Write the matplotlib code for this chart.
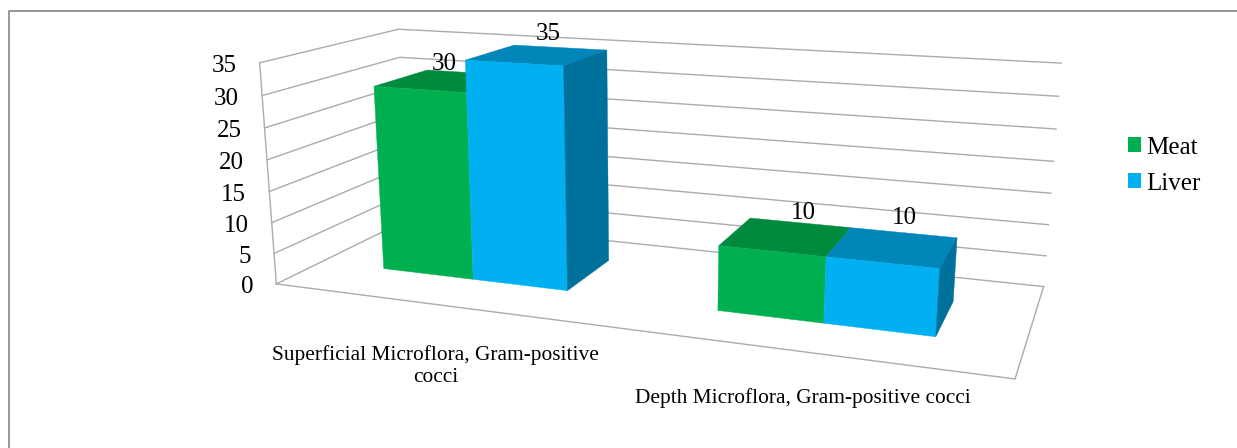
import numpy as np
import matplotlib
matplotlib.use("Agg")
import matplotlib.pyplot as plt
from matplotlib.patches import Patch, Polygon

# Chart data
categories = ["Superficial Microflora, Gram-positive\ncocci",
              "Depth Microflora, Gram-positive cocci"]
series_names = ["Meat", "Liver"]
meat_values = [30, 10]
liver_values = [35, 10]
tick_values = [0, 5, 10, 15, 20, 25, 30, 35]

# Colours: front face, top face, side face
front_colours = ["#00B050", "#00B0F0"]
top_colours = ["#008A3E", "#0086B8"]
side_colours = ["#00703A", "#00709C"]
grid_colour = "#ababab"

# Box layout in box units (x across 0..1, depth 0..1)
group_left = [0.103, 0.610]
bar_width = [0.1445, 0.1415]
depth_near = [0.318, 0.300]
depth_far = [0.735, 0.700]

# Perspective camera for the box: world corners and their pixel positions
Z_TOP = tick_values[-1]
camera_world = [(0, 0, 0), (0, 1, 0), (1, 1, 0), (1, 0, 0),
                (0, 0, Z_TOP), (0, 1, Z_TOP), (1, 1, Z_TOP), (1, 1, 20)]
camera_pixels = [(276, 284), (408, 219.5), (1043.3, 286.7), (1015, 379),
                 (260, 62.7), (398, 29.3), (1061, 63.3), (1054, 161)]


def fit_camera(world, pixels):
    rows = []
    for (X, Y, Z), (u, v) in zip(world, pixels):
        rows.append([X, Y, Z, 1, 0, 0, 0, 0, -u * X, -u * Y, -u * Z, -u])
        rows.append([0, 0, 0, 0, X, Y, Z, 1, -v * X, -v * Y, -v * Z, -v])
    return np.linalg.svd(np.array(rows))[2][-1].reshape(3, 4)


CAMERA = fit_camera(camera_world, camera_pixels)


def project(x, d, z):
    p = CAMERA @ np.array([x, d, z, 1.0])
    return p[:2] / p[2]


fig = plt.figure(figsize=(12.37, 4.48), dpi=100)
ax = fig.add_axes([0, 0, 1, 1])
ax.set_xlim(0, 1237)
ax.set_ylim(448, 0)
ax.axis("off")
serif = "Liberation Serif"
PX = 0.72  # points per pixel at this dpi

# Outer chart frame: only the top and left edges are drawn
ax.plot([9, 9, 1237], [448, 11.5, 11.5], color="#8f8f8f", lw=1.3, zorder=1)

# Value gridlines along the left wall and the back wall
for z in tick_values:
    pts = np.array([project(0, 0, z), project(0, 1, z), project(1, 1, z)])
    ax.plot(pts[:, 0], pts[:, 1], color=grid_colour, lw=1.0, zorder=2)

# Floor outline and the front-left vertical edge
floor = np.array([project(0, 0, 0), project(1, 0, 0), project(1, 1, 0)])
ax.plot(floor[:, 0], floor[:, 1], color=grid_colour, lw=1.0, zorder=2)
edge = np.array([project(0, 0, 0), project(0, 0, Z_TOP)])
ax.plot(edge[:, 0], edge[:, 1], color=grid_colour, lw=1.0, zorder=2)

# Value labels along the vertical axis
for z in tick_values:
    u, v = project(0, 0, z)
    ax.text(u - 23, v + 0.5, str(z), ha="right", va="center_baseline",
            family=serif, fontsize=25 * PX, color="black", zorder=6)


def face(points, colour, order):
    ax.add_patch(Polygon(points, closed=True, facecolor=colour,
                         edgecolor=colour, lw=0.3, zorder=order))


# Bars, painted series by series so the nearer faces overlap correctly
series_values = [meat_values, liver_values]
label_shift = [[(-26, -11), (3, -12)], [(-12, -16), (1, -17)]]
for g in range(len(categories)):
    for s, values in enumerate(series_values):
        value = values[g]
        x0 = group_left[g] + s * bar_width[g]
        x1 = x0 + bar_width[g]
        d0, d1 = depth_near[g], depth_far[g]
        order = 3 + s * 0.1
        face([project(x0, d0, value), project(x1, d0, value),
              project(x1, d1, value), project(x0, d1, value)],
             top_colours[s], order)
        face([project(x0, d0, 0), project(x1, d0, 0),
              project(x1, d0, value), project(x0, d0, value)],
             front_colours[s], order + 0.01)
        if s == len(series_values) - 1:
            face([project(x1, d0, 0), project(x1, d1, 0),
                  project(x1, d1, value), project(x1, d0, value)],
                 side_colours[s], order + 0.01)
        cx, cy = project((x0 + x1) / 2, d1, value)
        dx, dy = label_shift[s][g]
        ax.text(cx + dx, cy + dy, str(value), ha="center", va="center_baseline",
                family=serif, fontsize=25 * PX, color="black", zorder=7)

# Category labels under the floor
ax.text(435.5, 366, categories[0], ha="center", va="center", family=serif,
        fontsize=21.4 * PX, linespacing=1.25, color="black", zorder=6)
ax.text(803, 398, categories[1], ha="center", va="center", family=serif,
        fontsize=21.4 * PX, color="black", zorder=6)

# Legend at the right
handles = [Patch(facecolor=c, edgecolor="none", label=n)
           for c, n in zip(front_colours, series_names)]
ax.legend(handles=handles, loc="upper left", bbox_to_anchor=(1128, 136.5),
          bbox_transform=ax.transData, frameon=False, borderpad=0, borderaxespad=0,
          prop={"family": serif, "size": 25 * PX}, handlelength=0.52,
          handleheight=0.52, handletextpad=0.2, labelspacing=0.56)

fig.savefig("out.png", dpi=100, facecolor="white")
